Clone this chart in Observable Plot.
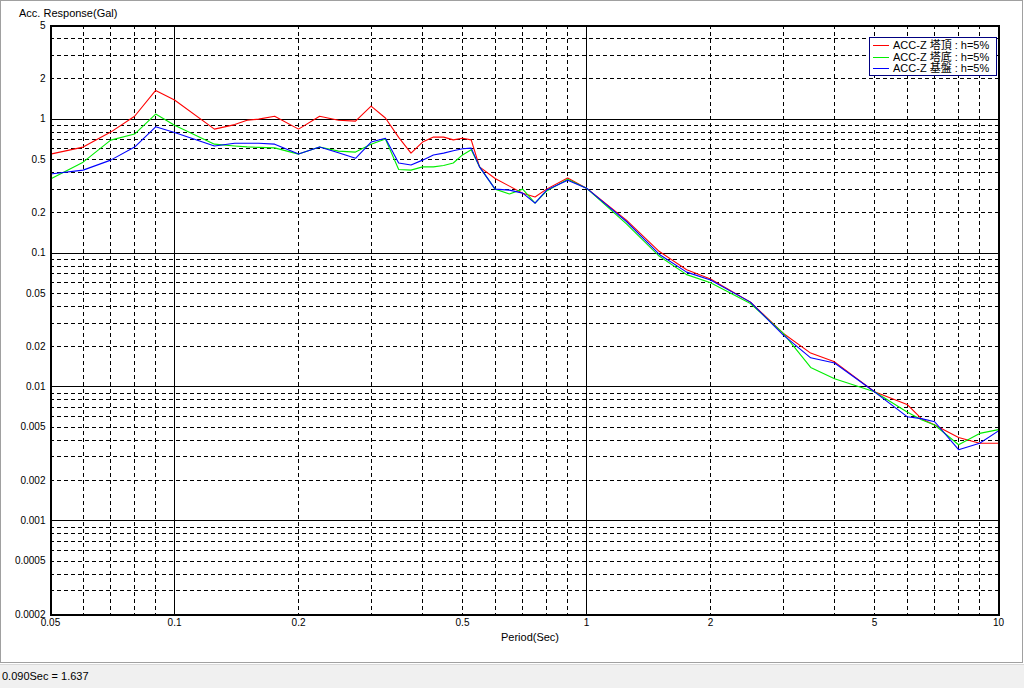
<!DOCTYPE html>
<html>
<head>
<meta charset="utf-8">
<script src="https://cdn.jsdelivr.net/npm/d3@7"></script>
<script src="https://cdn.jsdelivr.net/npm/@observablehq/plot@0.6"></script>
<style>
  html, body { margin: 0; padding: 0; background: #ffffff; }
  #wrap { position: relative; width: 1024px; height: 688px; overflow: hidden; font-family: "Liberation Sans", Arial, "Noto Sans CJK JP", sans-serif; }
  #panel { position: absolute; left: 0; top: 0; width: 1021px; height: 661px; border: 1px solid #a0a0a0; background: #fff; }
  #chart { position: absolute; left: 0; top: 0; }
  #ytitle { position: absolute; left: 19px; top: 7px; font-size: 11px; color: #000; white-space: nowrap; }
  #xtitle { position: absolute; left: 0; width: 1060px; top: 631px; text-align: center; font-size: 11px; color: #000; }
  #legend { position: absolute; left: 869px; top: 37px; width: 126px; height: 37px; border: 1px solid #000080; background: #fff; font-size: 11px; }
  .lrow { position: absolute; left: 0; height: 12px; width: 126px; }
  .lline { position: absolute; left: 3px; top: 6px; width: 16px; height: 1px; }
  .ltext { position: absolute; left: 23px; top: 0px; line-height: 12px; white-space: nowrap; font-family: "Liberation Sans", Arial, "Noto Sans CJK JP", sans-serif; }
  #status { position: absolute; left: 0; top: 664px; width: 1024px; height: 24px; background: #f0f0f0; border-top: 1px solid #d8d8d8; }
  #stext { position: absolute; left: 2px; top: 5px; font-size: 11px; color: #000; white-space: nowrap; }
</style>
</head>
<body>
<div id="wrap">
  <div id="panel"></div>
  <div id="chart"></div>
  <div id="ytitle">Acc. Response(Gal)</div>
  <div id="xtitle">Period(Sec)</div>
  <div id="legend"></div>
  <div id="status"><div id="stext">0.090Sec = 1.637</div></div>
</div>
<script>
// Periods (sec)
const periods = [0.05,0.06,0.07,0.08,0.09,0.1,0.125,0.14,0.15,0.16,0.175,0.2,0.225,0.25,0.275,0.3,0.325,0.35,0.375,0.4,0.425,0.45,0.475,0.5,0.525,0.55,0.6,0.65,0.7,0.75,0.8,0.9,1.0,1.25,1.5,1.75,2.0,2.5,3.0,3.5,4.0,5.0,6.0,6.5,7.0,8.0,9.0,10.0];
// ACC-Z 塔頂 (red)
const towerTop = [0.548,0.618,0.80,1.05,1.637,1.39,0.842,0.91,0.98,1.0,1.05,0.842,1.05,0.98,0.966,1.25,1.02,0.73,0.557,0.674,0.734,0.734,0.70,0.72,0.70,0.44,0.36,0.316,0.28,0.262,0.30,0.363,0.305,0.176,0.103,0.075,0.064,0.043,0.0252,0.0179,0.0154,0.0092,0.0074,0.0058,0.0052,0.0042,0.0038,0.0038];
// ACC-Z 塔底 (green)
const towerBottom = [0.357,0.477,0.697,0.773,1.09,0.90,0.65,0.63,0.62,0.615,0.61,0.548,0.62,0.577,0.567,0.65,0.71,0.42,0.416,0.44,0.44,0.45,0.47,0.54,0.59,0.44,0.30,0.276,0.30,0.236,0.29,0.355,0.305,0.165,0.095,0.069,0.060,0.042,0.0252,0.014,0.0115,0.0092,0.0065,0.0057,0.0052,0.0037,0.0045,0.0048];
// ACC-Z 基盤 (blue)
const basement = [0.389,0.416,0.494,0.618,0.876,0.795,0.63,0.66,0.66,0.66,0.65,0.548,0.62,0.56,0.51,0.674,0.72,0.47,0.454,0.494,0.54,0.557,0.58,0.60,0.607,0.44,0.30,0.295,0.28,0.236,0.295,0.35,0.305,0.172,0.098,0.072,0.063,0.043,0.0245,0.0165,0.0151,0.0092,0.006,0.0058,0.0055,0.0034,0.0038,0.0047];

const seriesNames = ["ACC-Z 塔頂 : h=5%", "ACC-Z 塔底 : h=5%", "ACC-Z 基盤 : h=5%"];
const seriesColors = ["#ff0000", "#00ee00", "#0000ff"];

const xTickLabels = [0.05,0.1,0.2,0.5,1,2,5,10];
const yTickLabels = [5,2,1,0.5,0.2,0.1,0.05,0.02,0.01,0.005,0.002,0.001,0.0005,0.0002];
const xMajorGrid = [0.1,1];
const xMinorGrid = [0.06,0.07,0.08,0.09,0.2,0.3,0.4,0.5,0.6,0.7,0.8,0.9,2,3,4,5,6,7,8,9];
const yMajorGrid = [0.001,0.01,0.1,1];
const yMinorGrid = [0.0003,0.0004,0.0005,0.0006,0.0007,0.0008,0.0009,0.002,0.003,0.004,0.005,0.006,0.007,0.008,0.009,0.02,0.03,0.04,0.05,0.06,0.07,0.08,0.09,0.2,0.3,0.4,0.5,0.6,0.7,0.8,0.9,2,3,4];

const seriesValues = [towerTop, towerBottom, basement];
const rows = [];
seriesValues.forEach((vals, si) => {
  periods.forEach((p, i) => rows.push({period: p, value: vals[i], series: seriesNames[si]}));
});

const fmt = d => String(d);
const crisp = {shapeRendering: "crispEdges"};

const chart = Plot.plot({
  width: 1024,
  height: 663,
  marginLeft: 50,
  marginRight: 26,
  marginTop: 25,
  marginBottom: 49,
  style: {fontFamily: "'Liberation Sans', Arial, sans-serif", fontSize: "10px", background: "transparent", color: "#000", overflow: "visible"},
  x: {type: "log", domain: [0.05, 10], axis: null},
  y: {type: "log", domain: [0.0002, 5], axis: null},
  color: {domain: seriesNames, range: seriesColors},
  marks: [
    Plot.ruleX(xMinorGrid, {stroke: "#000", strokeWidth: 1, strokeDasharray: "4,3", ...crisp}),
    Plot.ruleY(yMinorGrid, {stroke: "#000", strokeWidth: 1, strokeDasharray: "4,3", ...crisp}),
    Plot.ruleX(xMajorGrid, {stroke: "#000", strokeWidth: 1, ...crisp}),
    Plot.ruleY(yMajorGrid, {stroke: "#000", strokeWidth: 1, ...crisp}),
    Plot.line(rows, {x: "period", y: "value", z: "series", stroke: "series", strokeWidth: 1.1}),
    Plot.frame({stroke: "#000", strokeWidth: 2, ...crisp}),
    Plot.text(xTickLabels, {x: d => d, frameAnchor: "bottom", lineAnchor: "top", dy: 4, text: fmt, fill: "#000", fontSize: 10}),
    Plot.text(yTickLabels, {y: d => d, frameAnchor: "left", textAnchor: "end", dx: -5, text: fmt, fill: "#000", fontSize: 10})
  ]
});
document.getElementById("chart").appendChild(chart);

const legend = document.getElementById("legend");
seriesNames.forEach((name, i) => {
  const row = document.createElement("div");
  row.className = "lrow";
  row.style.top = (1 + i * 11.7) + "px";
  const ln = document.createElement("div");
  ln.className = "lline";
  ln.style.background = seriesColors[i];
  const tx = document.createElement("div");
  tx.className = "ltext";
  tx.textContent = name;
  row.appendChild(ln);
  row.appendChild(tx);
  legend.appendChild(row);
});
</script>
</body>
</html>
